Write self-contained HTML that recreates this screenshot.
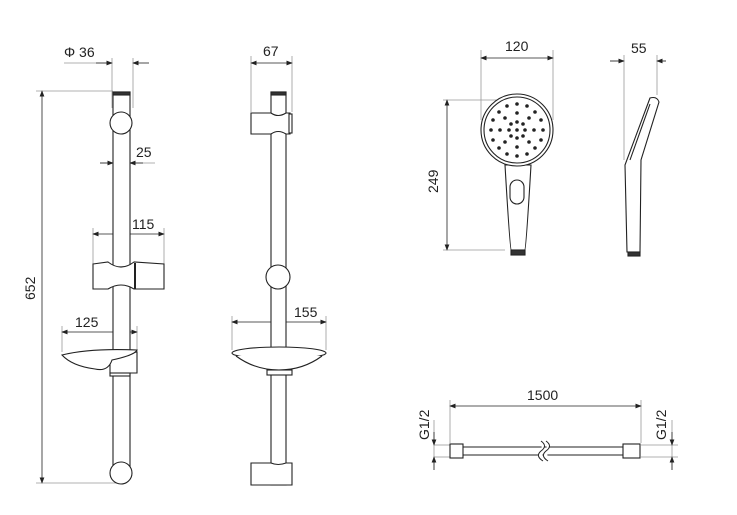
<!DOCTYPE html>
<html><head><meta charset="utf-8"><style>
html,body{margin:0;padding:0;background:#fff}
svg{display:block}
text{font-family:"Liberation Sans",sans-serif;font-size:14px;fill:#222}
</style></head><body>
<svg width="737" height="515" viewBox="0 0 737 515" xmlns="http://www.w3.org/2000/svg">
<defs>
<marker id="a" markerWidth="8" markerHeight="6" refX="7" refY="3" orient="auto-start-reverse"><path d="M0,0 L8,3 L0,6 z" fill="#222"/></marker>
</defs>
<g stroke="#999" stroke-width="0.8" fill="none">
<line x1="64" y1="63" x2="112" y2="63"/><line x1="112" y1="58" x2="112" y2="108"/><line x1="133" y1="58" x2="133" y2="108"/>
<line x1="36" y1="91" x2="113" y2="91"/><line x1="36" y1="483" x2="121" y2="483"/>
<line x1="100" y1="163" x2="155" y2="163"/>
<line x1="93" y1="228" x2="93" y2="265"/><line x1="164" y1="228" x2="164" y2="265"/>
<line x1="62" y1="326" x2="62" y2="352"/><line x1="137" y1="326" x2="137" y2="352"/>
<line x1="251" y1="56" x2="251" y2="112"/><line x1="292" y1="56" x2="292" y2="112"/>
<line x1="232" y1="316" x2="232" y2="350"/><line x1="326" y1="316" x2="326" y2="350"/>
<line x1="481" y1="50" x2="481" y2="120"/><line x1="553" y1="50" x2="553" y2="120"/>
<line x1="443" y1="100" x2="500" y2="100"/><line x1="443" y1="250" x2="505" y2="250"/>
<line x1="610" y1="61" x2="624" y2="61"/><line x1="657" y1="61" x2="666" y2="61"/>
<line x1="624" y1="55" x2="624" y2="160"/><line x1="657" y1="55" x2="657" y2="95"/>
<line x1="450" y1="400" x2="450" y2="443"/><line x1="641" y1="400" x2="641" y2="443"/>
<line x1="434" y1="445" x2="450" y2="445"/><line x1="434" y1="457" x2="450" y2="457"/>
<line x1="434" y1="420" x2="434" y2="470"/>
<line x1="641" y1="445" x2="678" y2="445"/><line x1="641" y1="457" x2="678" y2="457"/>
<line x1="672" y1="420" x2="672" y2="470"/>
</g>
<g stroke="#222" stroke-width="0.8" fill="none">
<line x1="96" y1="63" x2="112" y2="63" marker-end="url(#a)"/><line x1="149" y1="63" x2="133" y2="63" marker-end="url(#a)"/>
<line x1="42" y1="91" x2="42" y2="483" marker-start="url(#a)" marker-end="url(#a)"/>
<line x1="100" y1="163" x2="113" y2="163" marker-end="url(#a)"/><line x1="143" y1="163" x2="130" y2="163" marker-end="url(#a)"/>
<line x1="93" y1="234" x2="164" y2="234" marker-start="url(#a)" marker-end="url(#a)"/>
<line x1="62" y1="332" x2="137" y2="332" marker-start="url(#a)" marker-end="url(#a)"/>
<line x1="251" y1="63" x2="292" y2="63" marker-start="url(#a)" marker-end="url(#a)"/>
<line x1="232" y1="322" x2="326" y2="322" marker-start="url(#a)" marker-end="url(#a)"/>
<line x1="481" y1="58" x2="553" y2="58" marker-start="url(#a)" marker-end="url(#a)"/>
<line x1="447" y1="100" x2="447" y2="250" marker-start="url(#a)" marker-end="url(#a)"/>
<line x1="610" y1="61" x2="624" y2="61" marker-end="url(#a)"/><line x1="666" y1="61" x2="657" y2="61" marker-end="url(#a)"/>
<line x1="450" y1="406" x2="641" y2="406" marker-start="url(#a)" marker-end="url(#a)"/>
<line x1="434" y1="432" x2="434" y2="445" marker-end="url(#a)"/><line x1="434" y1="470" x2="434" y2="457" marker-end="url(#a)"/>
<line x1="672" y1="432" x2="672" y2="445" marker-end="url(#a)"/><line x1="672" y1="470" x2="672" y2="457" marker-end="url(#a)"/>
</g>
<g stroke="#222" stroke-width="1.1" fill="#fff">
<rect x="113" y="92" width="17" height="385"/>
<rect x="113" y="92" width="17" height="3" fill="#333"/>
<circle cx="121" cy="123" r="11"/>
<path d="M93,264 L108,262 Q121,272 134,262 L164,264 L164,289 L134,289 Q121,281 108,289 L93,289 Z"/>
<line x1="135" y1="263" x2="135" y2="289" stroke-width="2"/>
<path d="M110,356 L137,352 L137,373 L110,373 Z"/>
<rect x="110" y="373" width="20" height="3"/>
<path d="M62,355 Q90,348 137,350 Q135,355 112,360 Q108,372 95,369 Q72,366 62,355 Z"/>
<circle cx="121" cy="473" r="11"/>
<rect x="271" y="92" width="15" height="393"/>
<rect x="271" y="92" width="15" height="3" fill="#333"/>
<path d="M251,113 L271,113 Q278,118 286,113 L290,113 L290,134 L286,134 Q278,129 271,134 L251,134 Z"/>
<rect x="289" y="114" width="3" height="19"/>
<circle cx="278" cy="277" r="12"/>
<ellipse cx="279" cy="353" rx="47" ry="6"/>
<path d="M236,356 Q255,370 279,370 Q303,370 322,356"/>
<rect x="267" y="370" width="25" height="5"/>
<path d="M251,463 L271,463 Q278,466 286,463 L292,463 L292,485 L251,485 Z"/>
<path d="M505,165 Q510,250 511,250 L525,250 Q526,250 531,165 Z"/>
<circle cx="517" cy="130" r="36"/>
<circle cx="517" cy="130" r="33"/>
<rect x="510" y="180" width="14" height="24" rx="7"/>
<rect x="511" y="250" width="14" height="5" fill="#333"/>
<path d="M650,98 Q657,96 659,102 L641,160 L640,252 L627,252 L625,165 Z"/>
<path d="M630,160 L650,104" fill="none"/>
<rect x="628" y="252" width="12" height="4" fill="#333"/>
<line x1="463" y1="447" x2="623" y2="447"/><line x1="463" y1="455" x2="623" y2="455"/>
<rect x="450" y="444" width="13" height="14"/>
<rect x="623" y="444" width="17" height="14"/>
</g>
<path d="M541,441 Q548,446 541,451 Q535,456 543,461 M546,441 Q553,446 546,451 Q540,456 548,461" stroke="#222" fill="#fff" stroke-width="1"/>
<g fill="#222">
<circle cx="517" cy="130" r="1.8"/>
<circle cx="517" cy="122" r="1.8"/><circle cx="525" cy="130" r="1.8"/><circle cx="517" cy="138" r="1.8"/><circle cx="509" cy="130" r="1.8"/><circle cx="523" cy="124" r="1.8"/><circle cx="523" cy="136" r="1.8"/><circle cx="511" cy="136" r="1.8"/><circle cx="511" cy="124" r="1.8"/>
<circle cx="517" cy="113" r="1.8"/><circle cx="534" cy="130" r="1.8"/><circle cx="517" cy="147" r="1.8"/><circle cx="500" cy="130" r="1.8"/>
<circle cx="529" cy="118" r="1.8"/><circle cx="529" cy="142" r="1.8"/><circle cx="505" cy="142" r="1.8"/><circle cx="505" cy="118" r="1.8"/>
<circle cx="517" cy="104" r="1.8"/><circle cx="543" cy="130" r="1.8"/><circle cx="517" cy="156" r="1.8"/><circle cx="491" cy="130" r="1.8"/>
<circle cx="535" cy="112" r="1.8"/><circle cx="535" cy="148" r="1.8"/><circle cx="499" cy="148" r="1.8"/><circle cx="499" cy="112" r="1.8"/>
<circle cx="527" cy="106" r="1.8"/><circle cx="541" cy="120" r="1.8"/><circle cx="541" cy="140" r="1.8"/><circle cx="527" cy="154" r="1.8"/>
<circle cx="507" cy="154" r="1.8"/><circle cx="493" cy="140" r="1.8"/><circle cx="493" cy="120" r="1.8"/><circle cx="507" cy="106" r="1.8"/>
</g>
<text x="64" y="57">Φ 36</text>
<text x="136" y="157">25</text>
<text x="132" y="229">115</text>
<text x="75" y="327">125</text>
<text x="263" y="56">67</text>
<text x="294" y="317">155</text>
<text x="505" y="51">120</text>
<text x="631" y="53">55</text>
<text x="527" y="400">1500</text>
<text transform="translate(35,300) rotate(-90)">652</text>
<text transform="translate(438,193) rotate(-90)">249</text>
<text transform="translate(429,440) rotate(-90)">G1/2</text>
<text transform="translate(666,440) rotate(-90)">G1/2</text>
</svg>
</body></html>
